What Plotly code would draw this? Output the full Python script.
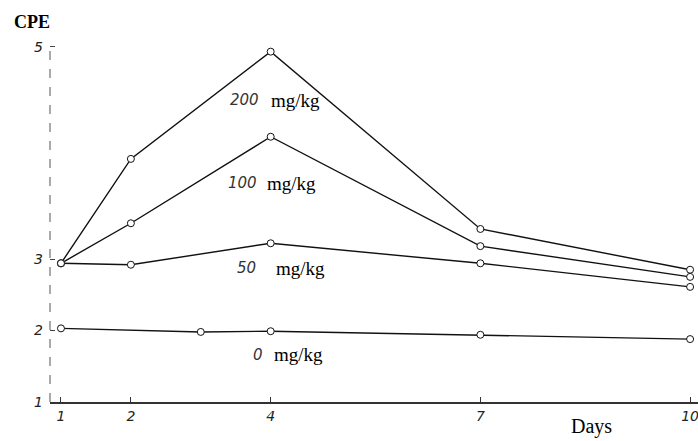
import plotly.graph_objects as go

days_main = [1, 2, 4, 7, 10]
days_zero = [1, 3, 4, 7, 10]
cpe_200 = [2.94, 4.40, 5.90, 3.42, 2.85]
cpe_100 = [2.94, 3.50, 4.71, 3.18, 2.75]
cpe_50 = [2.94, 2.92, 3.22, 2.94, 2.61]
cpe_0 = [2.03, 1.98, 1.99, 1.94, 1.88]

x_ticks = [1, 2, 4, 7, 10]
x_tick_labels = ["1", "2", "4", "7", "10"]
y_ticks = [1, 2, 3, 5.97]
y_tick_labels = ["1", "2", "3", "5"]

doses = ["200", "100", "50", "0"]
label_pos = {"200": (3.63, 4.35, 5.22), "100": (3.59, 4.30, 4.06),
             "50": (3.66, 4.42, 2.87), "0": (3.82, 4.40, 1.66)}

fig = go.Figure()
series = [(days_main, cpe_200), (days_main, cpe_100), (days_main, cpe_50), (days_zero, cpe_0)]
for (xs, ys), d in zip(series, doses):
    fig.add_trace(go.Scatter(
        x=xs, y=ys, mode="lines+markers", name=d + " mg/kg",
        line=dict(color="#111", width=1.4),
        marker=dict(symbol="circle", size=7, color="white", line=dict(color="#111", width=1)),
        cliponaxis=False, showlegend=False))

for d in doses:
    xn, xm, yy = label_pos[d]
    fig.add_annotation(x=xn, y=yy, xref="x", yref="y", text="<i>" + d + "</i>", showarrow=False,
                       font=dict(family="DejaVu Sans", size=15, color="#333"), xanchor="center", yanchor="middle")
    fig.add_annotation(x=xm, y=yy, xref="x", yref="y", text="mg/kg", showarrow=False,
                       font=dict(family="Liberation Serif", size=19, color="#000"), xanchor="center", yanchor="middle")

fig.add_annotation(x=-0.028, y=1.061, xref="paper", yref="paper", text="<b>CPE</b>", showarrow=False,
                   font=dict(family="Liberation Serif", size=18, color="#000"), xanchor="center", yanchor="middle")
fig.add_annotation(x=0.835, y=-0.106, xref="paper", yref="paper", text="Days", showarrow=False,
                   font=dict(family="Liberation Serif", size=20, color="#000"), xanchor="center", yanchor="bottom")

# dashed-looking y-axis line
fig.add_shape(type="line", xref="paper", yref="paper", x0=0, x1=0, y0=0, y1=1,
              line=dict(color="#555", width=1, dash="dash"))

fig.update_xaxes(range=[0.843, 10.113], tickvals=x_ticks, ticktext=x_tick_labels,
                 showgrid=False, zeroline=False, showline=True, linecolor="#333", linewidth=1.5,
                 ticks="inside", ticklen=5, tickcolor="#333", ticklabeloverflow="allow",
                 tickfont=dict(family="DejaVu Sans", size=14, color="#222", style="italic"))
fig.update_yaxes(range=[1, 6.007], tickvals=y_ticks, ticktext=y_tick_labels,
                 showgrid=False, zeroline=False, showline=False,
                 ticks="inside", ticklen=5, tickcolor="#444", ticklabelstandoff=6,
                 tickfont=dict(family="DejaVu Sans", size=14, color="#222", style="italic"))

fig.update_layout(width=698, height=441, margin=dict(l=50, r=0, t=44, b=39),
                  plot_bgcolor="white", paper_bgcolor="white")

fig.write_html("out.html", config={"displayModeBar": False},
               post_script="document.body.style.margin='0';")
